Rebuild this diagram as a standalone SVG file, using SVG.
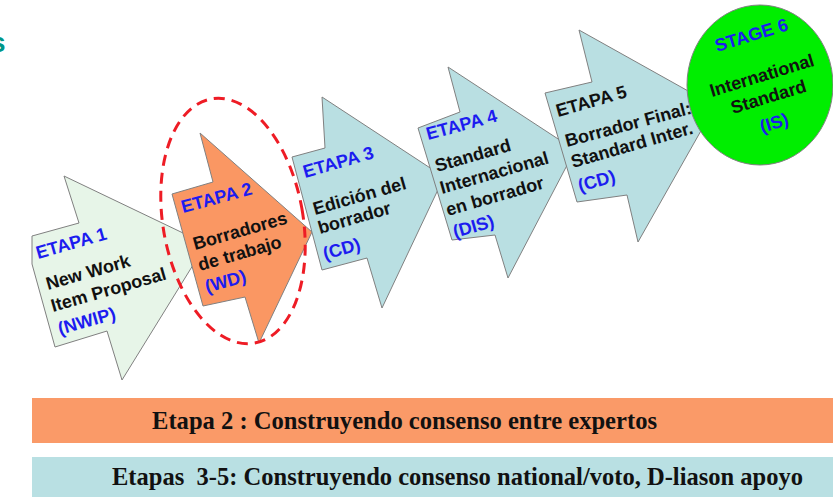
<svg xmlns="http://www.w3.org/2000/svg" width="833" height="497" viewBox="0 0 833 497">
<defs>
<style>
.arr{stroke:#808080;stroke-width:1;stroke-linejoin:miter}
.t{font-family:"Liberation Sans",Arial,sans-serif;font-weight:bold;font-size:18px}
.b{fill:#1c1cf0}
.k{fill:#111111}
.bar{font-family:"Liberation Serif","Times New Roman",serif;font-weight:bold;font-size:25px;fill:#111111}
</style>
</defs>
<rect width="833" height="497" fill="#ffffff"/>
<text x="-10" y="52" style="font-family:'Liberation Sans',Arial,sans-serif;font-weight:bold;font-size:28px;fill:#009688">s</text>

<g id="etapa1">
<polygon class="arr" fill="#e7f5e8" points="32,236 79,223 64,176 206,244 122,380 107,331 55,347 32,264"/>
<text class="t b" x="38" y="259" transform="rotate(-16 38 259)">ETAPA 1</text>
<text class="t k" x="48" y="290" transform="rotate(-16 48 290)">New Work</text>
<text class="t k" x="53" y="312" transform="rotate(-16 53 312)">Item Proposal</text>
<text class="t b" x="60" y="335" transform="rotate(-16 60 335)">(NWIP)</text>
</g>

<g id="etapa2">
<polygon class="arr" fill="#fa9763" points="172,194 213,182 200,133 312,232 259,343 245,297 203,306"/>
<text class="t b" x="183" y="213" transform="rotate(-15 183 213)">ETAPA 2</text>
<text class="t k" x="195" y="250" transform="rotate(-16 195 250)">Borradores</text>
<text class="t k" x="200" y="271" transform="rotate(-16 200 271)">de trabajo</text>
<text class="t b" x="207" y="293" transform="rotate(-16 207 293)">(WD)</text>
</g>

<g id="etapa3">
<polygon class="arr" fill="#b9dfe2" points="292,157 325,148 322,97 444,177 382,308 367,258 322,270"/>
<text class="t b" x="305" y="178" transform="rotate(-16 305 178)">ETAPA 3</text>
<text class="t k" x="315" y="215" transform="rotate(-16 315 215)">Edición del</text>
<text class="t k" x="320" y="234" transform="rotate(-16 320 234)">borrador</text>
<text class="t b" x="325" y="260" transform="rotate(-16 325 260)">(CD)</text>
</g>

<g id="etapa4">
<polygon class="arr" fill="#b9dfe2" points="418,128 460,112 448,67 575,150 508,278 495,235 452,240"/>
<text class="t b" x="428" y="140" transform="rotate(-15 428 140)">ETAPA 4</text>
<text class="t k" x="437" y="172" transform="rotate(-16 437 172)">Standard</text>
<text class="t k" x="442" y="194" transform="rotate(-16 442 194)">Internacional</text>
<text class="t k" x="448" y="216" transform="rotate(-16 448 216)">en borrador</text>
<text class="t b" x="455" y="238" transform="rotate(-16 455 238)">(DIS)</text>
</g>

<g id="etapa5">
<polygon class="arr" fill="#b9dfe2" points="545,93 592,82 579,30 715,106 638,242 627,195 577,202"/>
<text class="t k" x="558" y="117" transform="rotate(-16 558 117)">ETAPA 5</text>
<text class="t k" x="567" y="147" transform="rotate(-15 567 147)">Borrador Final:</text>
<text class="t k" x="573" y="168" transform="rotate(-16 573 168)">Standard Inter.</text>
<text class="t b" x="580" y="192" transform="rotate(-16 580 192)">(CD)</text>
</g>

<g id="stage6">
<ellipse cx="760" cy="85" rx="73" ry="80" fill="#00ee00" stroke="#808080" stroke-width="1"/>
<text class="t b" x="717" y="52" transform="rotate(-17 717 52)">STAGE 6</text>
<text class="t k" x="712" y="97" transform="rotate(-17 712 97)">International</text>
<text class="t k" x="733" y="114" transform="rotate(-17 733 114)">Standard</text>
<text class="t b" x="762" y="133" transform="rotate(-17 762 133)">(IS)</text>
</g>

<g id="connectors">
<ellipse cx="233" cy="221" rx="70" ry="124" transform="rotate(-10 233 221)" fill="none" stroke="#ee1c25" stroke-width="3" stroke-dasharray="11 7"/>
</g>

<g id="bar-etapa2">
<rect x="32" y="398" width="801" height="45" fill="#fa9a68"/>
<text class="bar" x="152" y="429" textLength="505" lengthAdjust="spacingAndGlyphs">Etapa 2 : Construyendo consenso entre expertos</text>
</g>
<g id="bar-etapas35">
<rect x="32" y="457" width="801" height="40" fill="#b9e0e3"/>
<text class="bar" x="112" y="485" textLength="691" lengthAdjust="spacingAndGlyphs" xml:space="preserve">Etapas  3-5: Construyendo consenso national/voto, D-liason apoyo</text>
</g>
</svg>
